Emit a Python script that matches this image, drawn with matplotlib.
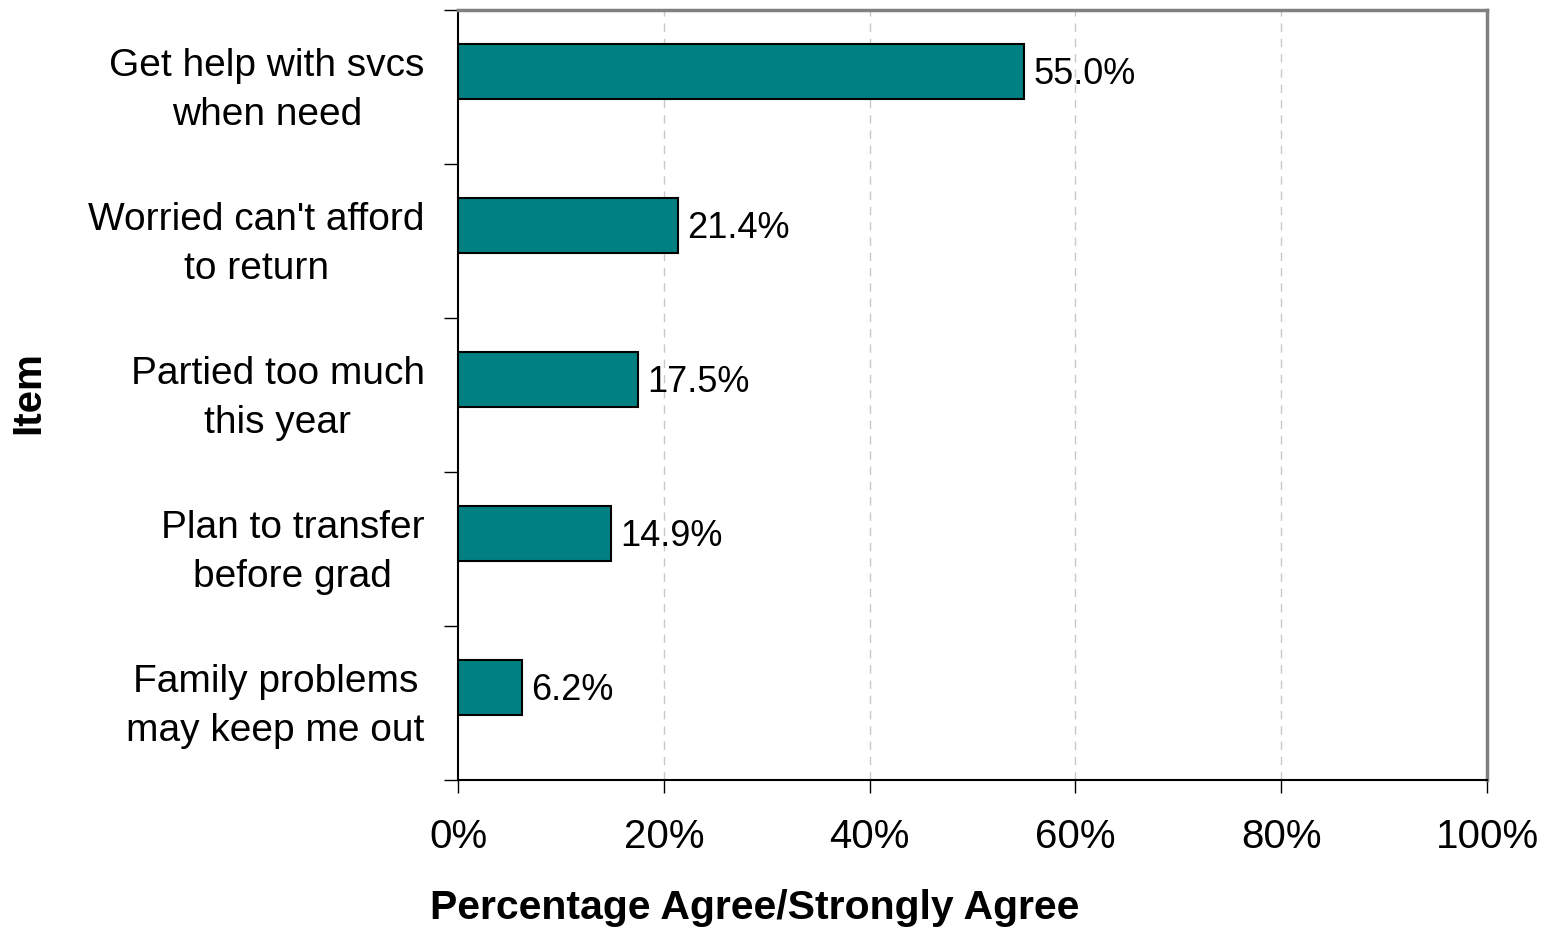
import matplotlib.pyplot as plt
from matplotlib.ticker import FixedLocator

plt.rcParams['font.family'] = ['Liberation Sans', 'DejaVu Sans']

# items, top to bottom
items = ["Get help with svcs\nwhen need",
         "Worried can't afford\nto return",
         "Partied too much\nthis year",
         "Plan to transfer\nbefore grad",
         "Family problems\nmay keep me out"]
valores = [55.0, 21.4, 17.5, 14.9, 6.2]
x_ticks = [0, 20, 40, 60, 80, 100]
x_tick_labels = ["0%", "20%", "40%", "60%", "80%", "100%"]


def plot_barras():
    fig = plt.figure(figsize=(15.55, 9.30), dpi=100)
    ax = fig.add_axes([458 / 1555, 1 - 780 / 930, 1029 / 1555, 770 / 930])

    pos = list(range(len(items)))
    pos_barras = [p - 0.1 for p in pos]  # las barras van un poco arriba del centro
    ax.barh(pos_barras, valores, height=0.36, color='#008080', edgecolor='black', linewidth=1.5, zorder=3)
    for p, v in zip(pos_barras, valores):
        ax.text(v + 0.9, p + 0.02, "%.1f%%" % v, va='center', ha='left', fontsize=26)

    ax.set_xlim(0, 100)
    ax.set_ylim(len(items) - 0.5, -0.5)

    ax.set_xticks(x_ticks)
    ax.set_xticklabels(x_tick_labels, fontsize=29)
    ax.tick_params(axis='x', length=9, width=1, direction='out', pad=18)

    # los textos de los items un poco arriba del centro de cada franja
    ax.set_yticks([p - 0.045 for p in pos])
    ax.set_yticklabels(items, fontsize=28)
    for lbl in ax.get_yticklabels():
        lbl.set_multialignment('center')
        lbl.set_linespacing(1.45)
    ax.tick_params(axis='y', which='major', length=0, pad=24)
    ax.yaxis.set_minor_locator(FixedLocator([p - 0.5 for p in range(len(items) + 1)]))
    ax.tick_params(axis='y', which='minor', length=10, width=1, direction='out')

    for g in x_ticks[1:-1]:
        ax.axvline(g, color='#c8c8c8', linestyle=(0, (6, 5)), linewidth=1, zorder=1)

    ax.spines['left'].set_color('black')
    ax.spines['bottom'].set_color('black')
    ax.spines['left'].set_linewidth(1.5)
    ax.spines['bottom'].set_linewidth(1.5)
    ax.spines['top'].set_color('#808080')
    ax.spines['right'].set_color('#808080')
    ax.spines['top'].set_linewidth(2.5)
    ax.spines['right'].set_linewidth(2.5)

    fig.text(755 / 1555, 1 - 908 / 930, 'Percentage Agree/Strongly Agree',
             ha='center', va='center', fontsize=29.5, fontweight='bold')
    fig.text(28 / 1555, 1 - 393 / 930, 'Item', rotation=90,
             ha='center', va='center', fontsize=29, fontweight='bold')

    fig.savefig('out.png', dpi=100)


def main():
    plot_barras()


main()
